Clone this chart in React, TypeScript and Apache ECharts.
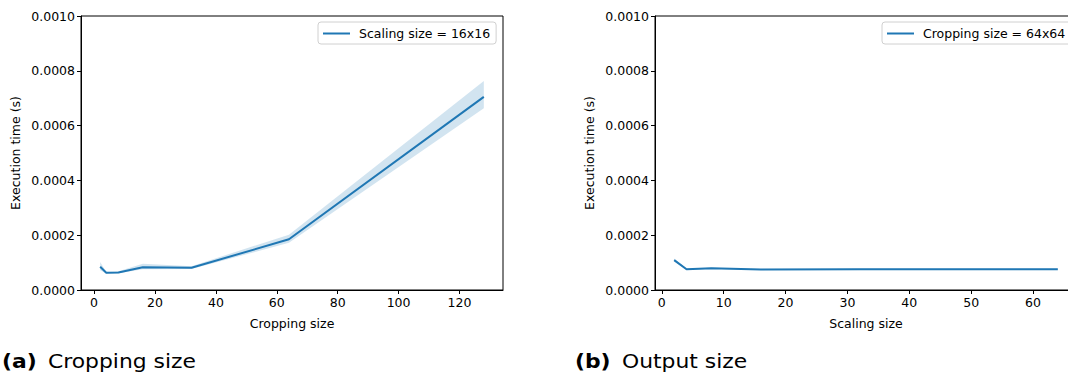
import React, { useEffect, useRef } from "react";
import * as echarts from "echarts";

const cropSizes = [2, 4, 8, 16, 32, 64, 128];
const cropMean = [0.000085, 0.000063, 0.000064, 0.000083, 0.000081, 0.000185, 0.000705];
const cropLow = [0.000072, 0.00006, 0.000061, 0.000076, 0.000077, 0.000172, 0.000663];
const cropHigh = [0.000102, 0.000066, 0.000068, 0.000096, 0.000087, 0.000202, 0.000763];

const scaleSizes = [2, 4, 8, 16, 32, 64];
const scaleMean = [0.000109, 0.0000755, 0.000079, 0.000075, 0.000076, 0.000076];
const scaleLow = [0.000104, 0.000073, 0.000077, 0.0000735, 0.0000745, 0.0000745];
const scaleHigh = [0.000115, 0.000078, 0.000081, 0.0000765, 0.0000775, 0.0000775];

const cropTicks = [0, 20, 40, 60, 80, 100, 120];
const scaleTicks = [0, 10, 20, 30, 40, 50, 60];

const FONT = "DejaVu Sans";
const BLUE = "#1f77b4";
const BAND = "rgba(31,119,180,0.2)";

function bandSeries(xs: number[], lo: number[], hi: number[], idx: number) {
  return {
    type: "custom",
    xAxisIndex: idx,
    yAxisIndex: idx,
    silent: true,
    z: 1,
    data: xs.map((x, i) => [x, lo[i], hi[i]]),
    encode: { x: 0, y: 1 },
    renderItem: (params: any, api: any) => {
      if (params.dataIndex !== 0) return null;
      const pts: number[][] = [];
      for (let i = 0; i < xs.length; i++) pts.push(api.coord([xs[i], hi[i]]));
      for (let i = xs.length - 1; i >= 0; i--) pts.push(api.coord([xs[i], lo[i]]));
      return { type: "polygon", shape: { points: pts }, style: { fill: BAND } };
    },
  };
}

function xAxisCfg(idx: number, min: number, max: number, ticks: number[], name: string) {
  return {
    type: "value",
    gridIndex: idx,
    min,
    max,
    name,
    nameLocation: "middle",
    nameGap: 27,
    nameTextStyle: { fontFamily: FONT, fontSize: 12.5, color: "#000" },
    axisLine: { show: true, onZero: false, lineStyle: { color: "#000", width: 1 } },
    axisTick: { show: true, length: 4, customValues: ticks, lineStyle: { color: "#000" } },
    axisLabel: { customValues: ticks, margin: 6, fontFamily: FONT, fontSize: 12.5, color: "#000" },
    splitLine: { show: false },
  };
}

function yAxisCfg(idx: number) {
  return {
    type: "value",
    gridIndex: idx,
    min: 0,
    max: 0.001,
    interval: 0.0002,
    name: "Execution time (s)",
    nameLocation: "middle",
    nameRotate: 90,
    nameGap: 59,
    nameTextStyle: { fontFamily: FONT, fontSize: 12.5, color: "#000" },
    axisLine: { show: true, onZero: false, lineStyle: { color: "#000", width: 1 } },
    axisTick: { show: true, length: 4, lineStyle: { color: "#000" } },
    axisLabel: {
      margin: 6,
      fontFamily: FONT,
      fontSize: 12.5,
      color: "#000",
      formatter: (v: number) => v.toFixed(4),
    },
    splitLine: { show: false },
  };
}

function legendCfg(left: number, name: string) {
  return {
    data: [name],
    left,
    top: 22,
    orient: "vertical",
    backgroundColor: "#fff",
    borderColor: "#d0d0d0",
    borderWidth: 1,
    borderRadius: 3,
    padding: [5, 6, 4, 5],
    icon: "rect",
    itemWidth: 27,
    itemHeight: 2,
    textStyle: { fontFamily: FONT, fontSize: 12.5, color: "#000", padding: [0, 0, 0, 4] },
    selectedMode: false,
  };
}

function caption(x: number, text: string, bold: boolean) {
  return {
    type: "text",
    x,
    y: 362,
    scaleX: 1.15,
    scaleY: 1,
    style: {
      text,
      fontFamily: FONT,
      fontSize: 19,
      fontWeight: bold ? "bold" : "normal",
      fill: "#000",
      align: "left",
      verticalAlign: "middle",
    },
  };
}

export default function App() {
  const ref = useRef<HTMLDivElement>(null);
  useEffect(() => {
    if (!ref.current) return;
    const chart = echarts.init(ref.current, undefined, { renderer: "svg" });
    const cropName = "Scaling size = 16x16";
    const scaleName = "Cropping size = 64x64";
    chart.setOption({
      animation: false,
      backgroundColor: "#fff",
      grid: [
        { left: 81, top: 16, width: 422, height: 274, outerBoundsMode: "none", containLabel: false, show: true, borderColor: "#000", borderWidth: 1, backgroundColor: "transparent" },
        { left: 655, top: 16, width: 422, height: 274, outerBoundsMode: "none", containLabel: false, show: true, borderColor: "#000", borderWidth: 1, backgroundColor: "transparent" },
      ],
      xAxis: [
        xAxisCfg(0, -4.3, 134.3, cropTicks, "Cropping size"),
        xAxisCfg(1, -1.1, 67.1, scaleTicks, "Scaling size"),
      ],
      yAxis: [yAxisCfg(0), yAxisCfg(1)],
      legend: [legendCfg(318, cropName), legendCfg(882, scaleName)],
      series: [
        bandSeries(cropSizes, cropLow, cropHigh, 0),
        {
          name: cropName,
          type: "line",
          xAxisIndex: 0,
          yAxisIndex: 0,
          symbol: "none",
          z: 3,
          data: cropSizes.map((x, i) => [x, cropMean[i]]),
          lineStyle: { color: BLUE, width: 2 },
          itemStyle: { color: BLUE },
        },
        bandSeries(scaleSizes, scaleLow, scaleHigh, 1),
        {
          name: scaleName,
          type: "line",
          xAxisIndex: 1,
          yAxisIndex: 1,
          symbol: "none",
          z: 3,
          data: scaleSizes.map((x, i) => [x, scaleMean[i]]),
          lineStyle: { color: BLUE, width: 2 },
          itemStyle: { color: BLUE },
        },
      ],
      graphic: [
        caption(2, "(a)", true),
        caption(48, "Cropping size", false),
        caption(575, "(b)", true),
        caption(622, "Output size", false),
      ],
    });
    return () => chart.dispose();
  }, []);
  return <div ref={ref} style={{ position: "absolute", left: 0, top: 0, width: 1068, height: 376 }} />;
}
